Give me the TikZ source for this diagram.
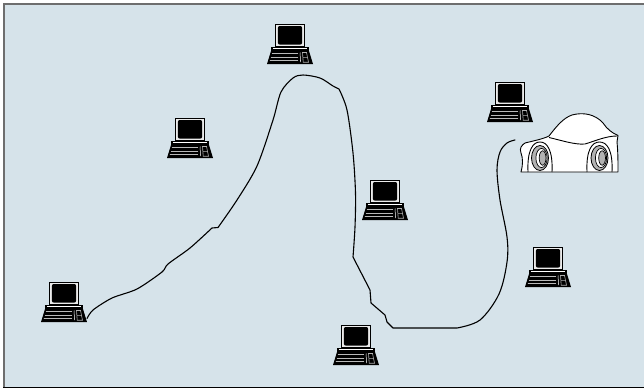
\documentclass[tikz,border=0pt]{standalone}
\definecolor{paper}{RGB}{214,227,234}
\definecolor{framegray}{RGB}{110,110,110}
\definecolor{tyre}{RGB}{178,178,178}
\tikzset{
  cable/.style={draw=black, line width=1.1pt, line join=round, line cap=round},
  carline/.style={draw=black, line width=0.9pt, line join=round},
  keyrow/.style={draw=gray!55, line width=1.2pt, line cap=round},
  laptop/.pic={
    % keyboard base
    \fill[black] (-19,-13) -- (19,-13) -- (23,0) -- (-23,0) -- cycle;
    \draw[keyrow] (-17.5,-10.3) -- (7.5,-10.3);
    \draw[keyrow] (-18.6,-6.8) -- (7.5,-6.8);
    \draw[keyrow] (-19.7,-3.3) -- (7.5,-3.3);
    \draw[white, line width=0.5pt] (10,-11.5) -- (10.6,-1.8);
    \draw[gray!60, line width=0.6pt] (12.5,-11.5) -- (16.5,-11.5) -- (18.5,-1.8) -- (13.2,-1.8) -- cycle
      (13,-6.6) -- (17.5,-6.6);
    % hinge bar
    \fill[black] (-19,-17.2) rectangle (19,-13);
    \draw[white, line width=0.5pt] (-17,-15.3) -- (17,-15.3);
    % monitor
    \filldraw[fill=gray!15, draw=black, line width=1pt] (-14.5,-40) rectangle (14.5,-17.2);
    \fill[black, rounded corners=2pt] (-12.2,-38) rectangle (12.2,-19.4);
    \coordinate (-port) at (23,-3.5);
  }
}
\begin{document}
\begin{tikzpicture}[x=1pt, y=-1pt]
  \useasboundingbox (0,0) rectangle (644,391);
  % panel
  \fill[paper] (3,3) rectangle (644,388);
  \draw[framegray, line width=1.6pt] (3.8,388) -- (3.8,3.8) -- (644,3.8);
  \draw[black, line width=1.3pt] (3,387.4) -- (644,387.4);

  % workstations
  \pic (lapA) at (64,322)  {laptop};
  \pic (lapB) at (190,158) {laptop};
  \pic (lapC) at (290,64)  {laptop};
  \pic (lapD) at (385,220) {laptop};
  \pic (lapE) at (356,365) {laptop};
  \pic (lapF) at (510,122) {laptop};
  \pic (lapG) at (548,287) {laptop};

  % cable from the workstation to the car
  \coordinate (cableend) at (515,140);
  \draw[cable] plot[smooth, tension=0.45] coordinates {
      (lapA-port) (93,310) (112,298) (137,289) (162,272) (168,264) (190,248) (212,228)}
    -- (218,227.5)
    plot[smooth, tension=0.5] coordinates {
      (218,227.5) (237,200) (257,166) (273,120) (281,92) (293,78) (303,75)
      (320,78) (333,86) (339,89)}
    plot[smooth, tension=0.5] coordinates {
      (339,89) (347,110) (353,153) (355.5,193) (355,227) (353,257)}
    -- (370,290) -- (371,303) -- (385,315) -- (387,322) -- (393,328) -- (457,328)
    plot[smooth, tension=0.55] coordinates {
      (457,328) (480,320) (499,294) (507,262) (507,237) (500,200) (497,170)
      (500,152) (507,143) (cableend)};

  % car body
  \filldraw[carline, fill=white]
    (521,172) .. controls (523,165) and (523,158) .. (521,153)
    .. controls (519,148) and (522,145) .. (525,143)
    .. controls (533,141) and (543,139) .. (549,136)
    .. controls (556,127) and (563,118) .. (572,115)
    .. controls (583,112) and (595,114) .. (603,123)
    .. controls (607,129) and (612,133) .. (618,135.5)
    -- (617,142)
    .. controls (618,152) and (618,162) .. (618,172)
    -- cycle;
  % belt line under the window
  \draw[carline] (549,137.5) .. controls (560,140) and (575,145) .. (585,144)
    .. controls (595,141) and (606,136) .. (617,136);
  % wheel arches
  \draw[carline] (528,172) .. controls (527,150) and (533,142) .. (540,142)
    .. controls (547,142) and (553,150) .. (552,172);
  \draw[carline] (587,172) .. controls (586,150) and (592,142) .. (599.5,142)
    .. controls (607,142) and (613,150) .. (612,172);
  % wheels
  \foreach \wx/\nm in {540/wheelF, 599.5/wheelR} {
    \filldraw[fill=tyre, draw=black, line width=0.8pt] (\wx,158) ellipse [x radius=8.5, y radius=12.5];
    \filldraw[fill=white, draw=black, line width=0.7pt] (\wx+1.5,158) ellipse [x radius=5.6, y radius=9.6];
    \filldraw[fill=tyre, draw=black, line width=0.7pt] (\wx+2.6,158) ellipse [x radius=3.4, y radius=7.2];
  }
\end{tikzpicture}
\end{document}
